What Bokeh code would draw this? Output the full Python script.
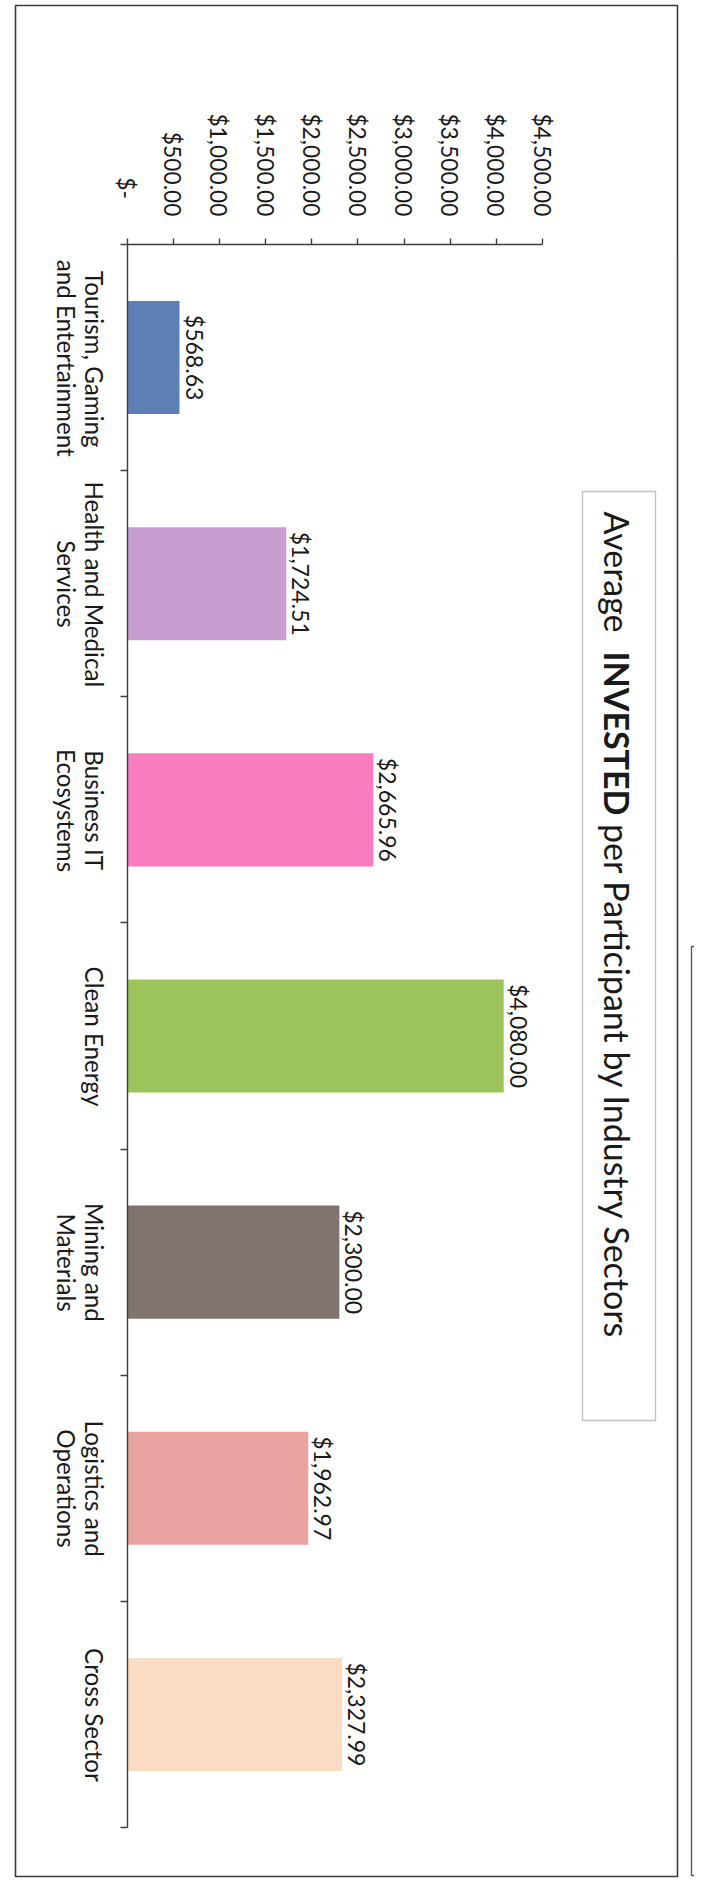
import math, os, glob, struct, subprocess
from bokeh.plotting import figure
from bokeh.models import Range1d, LinearAxis, FixedTicker, ColumnDataSource, Label, BoxAnnotation
from bokeh.core.properties import value
from bokeh.embed import file_html
from bokeh.resources import INLINE

# ---------------- data ----------------
categories = ["Tourism, Gaming\nand Entertainment", "Health and Medical\nServices",
              "Business IT\nEcosystems", "Clean Energy", "Mining and\nMaterials",
              "Logistics and\nOperations", "Cross Sector"]
values = [568.63, 1724.51, 2665.96, 4080.00, 2300.00, 1962.97, 2327.99]
value_labels = ["$568.63", "$1,724.51", "$2,665.96", "$4,080.00", "$2,300.00", "$1,962.97", "$2,327.99"]
bar_colors = ["#5e7fb5", "#c69fd0", "#f67cbf", "#9cc45a", "#807470", "#e9a3a1", "#f9dcc3"]
tick_values = [0, 500, 1000, 1500, 2000, 2500, 3000, 3500, 4000, 4500]
tick_labels = ["$-\u00a0\u00a0\u00a0", "$500.00", "$1,000.00", "$1,500.00", "$2,000.00", "$2,500.00",
               "$3,000.00", "$3,500.00", "$4,000.00", "$4,500.00"]
title_parts = ["Average", "INVESTED", "per Participant by Industry Sectors"]

FONT = "Lato"
TXT = "#1a1a1a"
AX = "#3c3c3c"

# ---------------- font metrics (to size text like the reference) ----------------
def _font_file(bold):
    pat = FONT + (":style=Bold" if bold else ":style=Regular")
    try:
        f = subprocess.run(["fc-match", "-f", "%{file}", pat], capture_output=True,
                           text=True, timeout=10).stdout.strip()
        if f and os.path.exists(f) and FONT.lower() in os.path.basename(f).lower():
            return f
    except Exception:
        pass
    name = FONT + ("-Bold" if bold else "-Regular")
    for root in ["/usr/share/fonts", "/usr/local/share/fonts",
                 os.path.expanduser("~/.fonts"), os.path.expanduser("~/.local/share/fonts")]:
        c = glob.glob(os.path.join(root, "**", name + ".*"), recursive=True)
        if c:
            return c[0]
    return None


class Widths:
    def __init__(self, path):
        self.ok = False
        self.map = {}
        try:
            d = open(path, "rb").read()
            u16 = lambda o: struct.unpack(">H", d[o:o + 2])[0]
            s16 = lambda o: struct.unpack(">h", d[o:o + 2])[0]
            u32 = lambda o: struct.unpack(">I", d[o:o + 4])[0]
            base = u32(12) if d[:4] == b"ttcf" else 0
            n = u16(base + 4)
            t = {}
            for i in range(n):
                r = base + 12 + 16 * i
                t[d[r:r + 4].decode("latin-1")] = u32(r + 8)
            self.upem = u16(t["head"] + 18)
            nh = u16(t["hhea"] + 34)
            hm = t["hmtx"]
            self.adv = [u16(hm + 4 * i) for i in range(nh)]
            cm = t["cmap"]
            subs = {}
            for i in range(u16(cm + 2)):
                subs[(u16(cm + 4 + 8 * i), u16(cm + 6 + 8 * i))] = cm + u32(cm + 8 + 8 * i)
            for key in [(3, 10), (0, 4), (3, 1), (0, 3), (0, 1), (0, 0)]:
                if key not in subs:
                    continue
                o = subs[key]
                fmt = u16(o)
                if fmt == 12:
                    for i in range(u32(o + 12)):
                        g0 = o + 16 + 12 * i
                        sc, ec, sg = u32(g0), u32(g0 + 4), u32(g0 + 8)
                        for c in range(sc, min(ec, 0x2FFF) + 1):
                            self.map[c] = sg + (c - sc)
                elif fmt == 4:
                    segx2 = u16(o + 6)
                    ends = o + 14
                    starts = ends + segx2 + 2
                    deltas = starts + segx2
                    ros = deltas + segx2
                    for i in range(segx2 // 2):
                        e, s = u16(ends + 2 * i), u16(starts + 2 * i)
                        dl, ro = s16(deltas + 2 * i), u16(ros + 2 * i)
                        if s > 0x2FFF:
                            continue
                        for c in range(s, min(e, 0x2FFF) + 1):
                            if ro == 0:
                                g = (c + dl) & 0xFFFF
                            else:
                                g = u16(ros + 2 * i + ro + 2 * (c - s))
                                if g:
                                    g = (g + dl) & 0xFFFF
                            self.map[c] = g
                else:
                    continue
                break
            self.ok = len(self.map) > 50
        except Exception:
            self.ok = False

    def width(self, s):
        if not self.ok:
            return 0.52 * len(s)
        tot = 0.0
        for ch in s:
            g = self.map.get(ord(ch))
            if g is None:
                tot += 0.52
            else:
                tot += self.adv[min(g, len(self.adv) - 1)] / self.upem
        return tot


_r, _b = _font_file(False), _font_file(True)
reg = Widths(_r) if _r else Widths("")
bold = Widths(_b) if _b else Widths("")

tick_fs = 103.0 / reg.width("$3,500.00")
data_fs = 104.0 / reg.width("$2,327.99")
cat_fs = (183.0 / reg.width("Tourism, Gaming") + 202.0 / reg.width("and Entertainment")
          + 130.0 / reg.width("Cross Sector")) / 3.0
title_fs = (822.0 - 305.0) / reg.width(title_parts[2])

# ---------------- geometry (canvas pixels) ----------------
W, H = 694, 1886
AXL, AXR, AXT, AXB = 126.5, 542.0, 244.0, 1827.0   # plot area of the chart
n = len(categories)
centers = [i + 0.5 for i in range(n)]
bounds = list(range(n + 1))
SX = (AXR - AXL) / float(tick_values[-1])
SY = (AXB - AXT) / float(n)

def dx(px):
    return (px - AXL) / SX

def dy(py):
    return (py - AXT) / SY

p = figure(width=W, height=H, x_range=Range1d(dx(0), dx(W)), y_range=Range1d(dy(H), dy(0)),
           output_backend="svg", toolbar_location=None,
           x_axis_location=None, y_axis_location=None,
           min_border_left=0, min_border_right=0, min_border_top=0, min_border_bottom=0)
p.title.visible = False
p.grid.visible = False
p.outline_line_color = None
p.background_fill_color = "white"
p.border_fill_color = "white"

# value axis (top)
xax = LinearAxis(ticker=FixedTicker(ticks=tick_values, minor_ticks=[]),
                 fixed_location=0, bounds=(tick_values[0], tick_values[-1]),
                 major_label_overrides={v: l for v, l in zip(tick_values, tick_labels)},
                 major_label_orientation=-math.pi / 2,
                 major_label_text_font=FONT, major_label_text_font_size=f"{tick_fs:.1f}px",
                 major_label_text_color=TXT, major_label_standoff=22,
                 axis_line_color=AX, axis_line_width=1.4,
                 major_tick_line_color=AX, major_tick_line_width=1.4,
                 major_tick_out=6, major_tick_in=0, minor_tick_line_color=None)
p.add_layout(xax, "above")

# category axis: line + boundary ticks
yax_ticks = LinearAxis(ticker=FixedTicker(ticks=bounds, minor_ticks=[]),
                       fixed_location=0, bounds=(0, n),
                       major_label_overrides={b: "" for b in bounds},
                       major_label_text_font_size="0px", major_label_standoff=0,
                       axis_line_color=AX, axis_line_width=1.4,
                       major_tick_line_color=AX, major_tick_line_width=1.4,
                       major_tick_out=7, major_tick_in=0, minor_tick_line_color=None)
p.add_layout(yax_ticks, "left")

# category labels: one axis per text line.  With a -90 degree orientation on a left
# axis Bokeh ends each label at its tick, so the tick is moved down by half the
# label's length to centre the label in its band.
lines1 = [c.split("\n")[0] for c in categories]
lines2 = [c.split("\n")[1] if "\n" in c else "" for c in categories]
for lines, standoff in [(lines1, 33), (lines2, 61)]:
    ticks, over = [], {}
    for c, s in zip(centers, lines):
        if not s:
            continue
        t = c + 0.5 * reg.width(s) * cat_fs / SY
        ticks.append(t)
        over[t] = s
    ax = LinearAxis(ticker=FixedTicker(ticks=ticks, minor_ticks=[]),
                    fixed_location=0,
                    major_label_overrides=over,
                    major_label_orientation=-math.pi / 2,
                    major_label_text_font=FONT, major_label_text_font_size=f"{cat_fs:.1f}px",
                    major_label_text_color=TXT, major_label_standoff=standoff,
                    axis_line_color=None, major_tick_line_color=None, minor_tick_line_color=None,
                    major_tick_out=0, major_tick_in=0)
    p.add_layout(ax, "left")

label_x = [v + 15.0 / SX for v in values]
src = ColumnDataSource(dict(y=centers, v=values, lx=label_x, lab=value_labels, color=bar_colors))
p.hbar(y="y", left=0, right="v", height=0.5, fill_color="color", line_color=None, source=src)
p.text(x="lx", y="y", text="lab", angle=-math.pi / 2, text_align="center",
       text_baseline="alphabetic",
       text_font=value(FONT), text_font_size=f"{data_fs:.1f}px", text_color=TXT, source=src)

# chart border and the neighbouring panel of the scanned page
p.add_layout(BoxAnnotation(left=dx(15), right=dx(677), top=dy(5), bottom=dy(1876),
                           fill_alpha=0, line_color="#3a3a3a", line_alpha=1.0, line_width=1.6))
p.add_layout(BoxAnnotation(left=dx(691), right=dx(760), top=dy(946), bottom=dy(1875),
                           fill_alpha=0, line_color="#5a5a5a", line_alpha=1.0, line_width=1.4))

# title box and title
p.add_layout(BoxAnnotation(left=dx(582), right=dx(655), top=dy(491), bottom=dy(1420),
                           fill_alpha=0, line_color="#c2c2c2", line_alpha=1.0, line_width=1.4))
t_x = dx(617)
y0 = 511
y1 = max(651, y0 + reg.width(title_parts[0]) * title_fs + 0.35 * title_fs)
y2 = max(816, y1 + bold.width(title_parts[1]) * title_fs + 0.25 * title_fs)
for txt, yy, style in [(title_parts[0], y0, "normal"), (title_parts[1], y1, "bold"),
                       (title_parts[2], y2, "normal")]:
    p.add_layout(Label(x=t_x, y=dy(yy), text=txt, angle=-math.pi / 2, text_align="left",
                       text_baseline="middle", text_font=FONT, text_font_style=style,
                       text_font_size=f"{title_fs:.1f}px", text_color=TXT))

open("out.html", "w").write(file_html(p, INLINE))
